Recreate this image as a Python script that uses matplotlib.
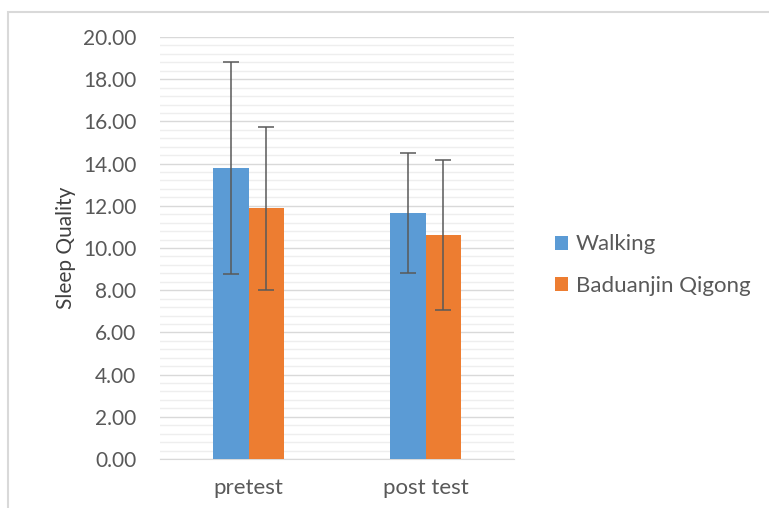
import matplotlib
matplotlib.use("Agg")
import matplotlib.pyplot as plt
import numpy as np
from matplotlib.patches import Rectangle
from matplotlib.ticker import MultipleLocator

# values
categories = ["pretest", "post test"]
series = ["Walking", "Baduanjin Qigong"]
walking = [13.80, 11.65]
walking_err = [5.02, 2.83]
qigong = [11.88, 10.63]
qigong_err = [3.85, 3.55]
colors = ["#5B9BD5", "#ED7D31"]

plt.rcParams["font.family"] = ["Lato", "DejaVu Sans"]
fig = plt.figure(figsize=(7.69, 5.08), dpi=100)
W, H = 769, 508

# outer chart frame (runs past right/bottom edges of the picture)
fig.patches.append(Rectangle((8 / W, -0.05), 1.1, 1 - 12 / H + 0.05, transform=fig.transFigure,
                             fill=False, edgecolor="#d9d9d9", linewidth=1.5))

ax = fig.add_axes([160 / W, 1 - 459 / H, 354 / W, 422 / H])
x = np.arange(len(categories))
bw = 0.2
ax.bar(x - bw / 2, walking, bw, color=colors[0], label=series[0], zorder=3)
ax.bar(x + bw / 2, qigong, bw, color=colors[1], label=series[1], zorder=3)
ax.errorbar(x - bw / 2, walking, yerr=walking_err, fmt="none", ecolor="#595959",
            elinewidth=1.1, capsize=6, capthick=1.1, zorder=4)
ax.errorbar(x + bw / 2, qigong, yerr=qigong_err, fmt="none", ecolor="#595959",
            elinewidth=1.1, capsize=6, capthick=1.1, zorder=4)

ax.set_xlim(-0.5, 1.5)
ax.set_ylim(0, 20)
ax.yaxis.set_major_locator(MultipleLocator(2))
ax.yaxis.set_minor_locator(MultipleLocator(0.4))
ax.yaxis.set_major_formatter(matplotlib.ticker.FormatStrFormatter("%.2f"))
ax.grid(axis="y", which="major", color="#d9d9d9", linewidth=1.0, zorder=0)
ax.grid(axis="y", which="minor", color="#eeeeee", linewidth=1.0, zorder=0)
ax.set_axisbelow(True)
for s in ["top", "right", "left"]:
    ax.spines[s].set_visible(False)
ax.spines["bottom"].set_color("#d9d9d9")
ax.tick_params(axis="both", which="both", length=0, colors="#595959")
ax.tick_params(axis="y", pad=17, labelsize=15)
ax.tick_params(axis="x", pad=14, labelsize=16)
ax.set_xticks(x)
ax.set_xticklabels(categories)
ax.set_ylabel("Sleep Quality", fontsize=15, color="#404040", labelpad=5)

ax.legend(loc="center left", bbox_to_anchor=(535 / W, 1 - 265 / H), bbox_transform=fig.transFigure,
          frameon=False, fontsize=16, labelcolor="#595959", handlelength=0.6, handleheight=0.6,
          handletextpad=0.35, labelspacing=0.95)

fig.savefig("out.png", dpi=100)
